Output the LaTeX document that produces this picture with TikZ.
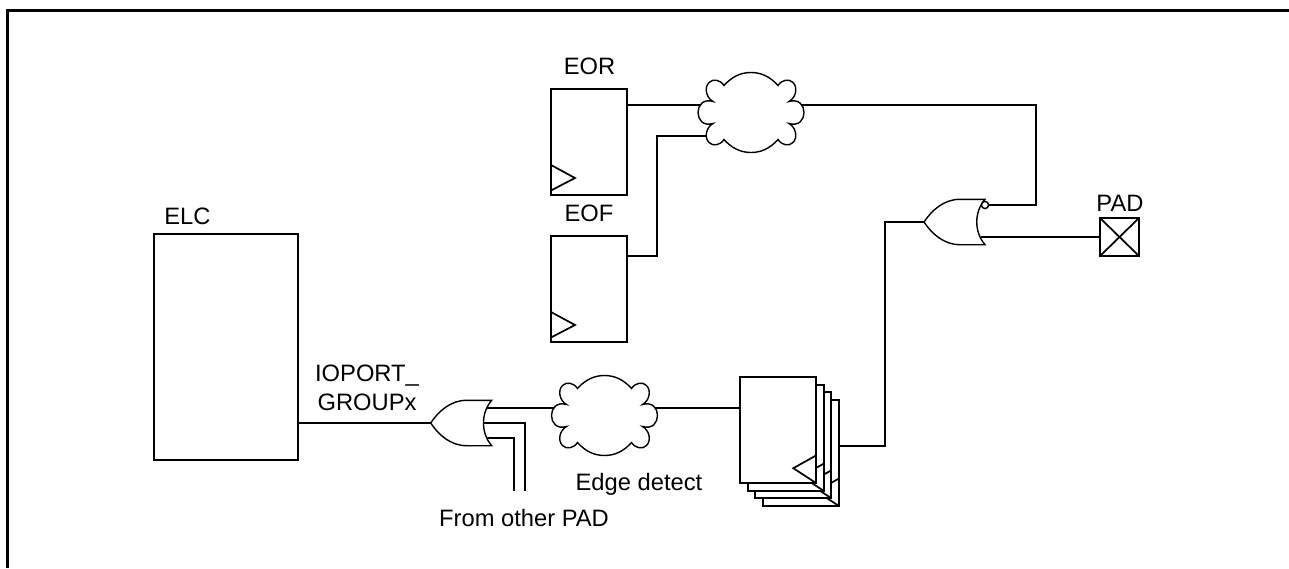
\documentclass[tikz,border=0pt]{standalone}
\usepackage{fontspec}
\setmainfont{Liberation Sans}
\usetikzlibrary{calc}
\tikzset{
  wire/.style={line width=1.3pt,line join=miter},
  thinwire/.style={line width=1.05pt,line join=miter},
  box/.style={draw,fill=white,line width=1.3pt,inner sep=0pt,outer sep=0pt,minimum width=57pt},
  ff/.style={box,minimum height=79.5pt},
  label/.style={font=\fontsize{17.8}{21.75}\selectfont,inner sep=0pt,anchor=base,align=center},
  ghost/.style={inner sep=0pt,outer sep=0pt,minimum width=79.5pt,minimum height=60pt}
}
\newcommand{\cloudshape}[1]{%
  \draw[thinwire,fill=white,shift={(#1.center)}]
    (-27,-27) .. controls (-19,-36) and (-10,-40) .. (0,-40) .. controls (10,-40) and (19,-36) .. (27,-27)
    .. controls (31,-33) and (38,-34) .. (42,-30) .. controls (47,-25) and (45,-15) .. (38,-11)
    .. controls (48,-14) and (53,-7) .. (53,0) .. controls (53,7) and (48,14) .. (38,11)
    .. controls (45,15) and (47,25) .. (42,30) .. controls (38,34) and (31,33) .. (27,27)
    .. controls (19,36) and (10,40) .. (0,40) .. controls (-10,40) and (-19,36) .. (-27,27)
    .. controls (-31,33) and (-38,34) .. (-42,30) .. controls (-47,25) and (-45,15) .. (-38,11)
    .. controls (-48,14) and (-53,7) .. (-53,0) .. controls (-53,-7) and (-48,-14) .. (-38,-11)
    .. controls (-45,-15) and (-47,-25) .. (-42,-30) .. controls (-38,-34) and (-31,-33) .. (-27,-27) -- cycle;}
\newcommand{\gateshape}[1]{%
  \draw[thinwire,fill=white,shift={(#1)}]
    (0,0) .. controls (8,-12) and (20,-22.7) .. (36,-22.7) -- (61,-22.7)
    .. controls (50,-10) and (50,10) .. (61,22.7) -- (36,22.7)
    .. controls (20,22.7) and (8,12) .. (0,0) -- cycle;}
\newcommand{\clocktri}[1]{%
  \draw[wire] ($(#1.south west)+(0,-30)$) -- ++(24,13) -- ($(#1.south west)+(0,-4.5)$);}
\newcommand{\regtri}[1]{%
  \draw[wire] ($(#1.south east)+(0,-27.5)$) -- ++(-22.7,12.7) -- (#1.south east);}
\begin{document}
\begin{tikzpicture}[x=0.75pt,y=-0.75pt]
\useasboundingbox (0,0) rectangle (1289,568);
% page frame
\coordinate (fa) at (7.5,568);
\coordinate (fb) at (7.5,10.5);
\coordinate (fc) at (1289,10.5);
\draw[line width=2.25pt] (fa) -- (fb) -- (fc);

% blocks
\node[box,minimum width=108pt,minimum height=169.5pt] (elc) at (226,347) {};
\node[ff] (eor) at (589,142) {};
\node[ff] (eof) at (589,289) {};
\node[box,minimum width=29.25pt,minimum height=28.5pt] (pad) at (1119.5,237) {};
\node[ff] (reg4) at (801,453) {};
\regtri{reg4}
\node[ff] (reg3) at (793,445) {};
\regtri{reg3}
\node[ff] (reg2) at (786,438) {};
\regtri{reg2}
\node[ff] (reg1) at (778,430) {};
\regtri{reg1}
\node[ghost] (cloudA) at (751,112.5) {};
\node[ghost] (cloudB) at (604.5,415.5) {};
\coordinate (nor) at (924,222);
\coordinate (ortip) at (430.7,423);
\coordinate (bubc) at (985,205);

% free ends and junction levels
\coordinate (eorout) at (627,105);
\coordinate (eofa) at (657,256);
\coordinate (eofb) at (657,136);
\coordinate (norturn) at (1036,105);
\coordinate (norback) at (981,237);
\coordinate (orA) at (485,408);
\coordinate (orB) at (483,423);
\coordinate (orC) at (486,438);
\coordinate (endB) at (525,491);
\coordinate (endC) at (514,491);
\coordinate (regout) at (885,446);

% connectors
\draw[wire] (eorout) -- (eorout -| cloudA.center);
\draw[wire] (eof.east |- eofa) -- (eofa) -- (eofb) -- (eofb -| cloudA.center);
\draw[wire] (cloudA.center |- eorout) -- (norturn) -- (norturn |- bubc) -- (bubc);
\draw[wire] (norback) -- (pad.west);
\draw[wire] (pad.north west) -- (pad.south east);
\draw[wire] (pad.south west) -- (pad.north east);
\draw[wire] (reg4.east |- regout) -- (regout) -- (regout |- nor) -- (nor);
\draw[wire] (elc.east |- ortip) -- (ortip);
\draw[wire] (orA) -- (orA -| cloudB.center);
\draw[wire] (cloudB.center |- orA) -- (reg1.west |- orA);
\draw[wire] (orB) -- (orB -| endB) -- (endB);
\draw[wire] (orC) -- (orC -| endC) -- (endC);

% shapes over the wires
\cloudshape{cloudA}
\cloudshape{cloudB}
\gateshape{nor}
\gateshape{ortip}
\node[circle,draw,fill=white,line width=1.05pt,inner sep=0pt,outer sep=0pt,minimum size=5.4pt] (bub) at (bubc) {};
\clocktri{eor}
\clocktri{eof}

% labels
\node[label] (tEOR) at (589.5,74) {EOR};
\node[label] (tEOF) at (589,221) {EOF};
\node[label] (tPAD) at (1120,211) {PAD};
\node[label] (tELC) at (187.5,224.3) {ELC};
\node[label] (tIO) at (367,410.7) {IOPORT\_\\GROUPx};
\node[label] (tEdge) at (639,490.7) {Edge detect};
\node[label] (tFrom) at (524,526) {From other PAD};
\end{tikzpicture}
\end{document}
